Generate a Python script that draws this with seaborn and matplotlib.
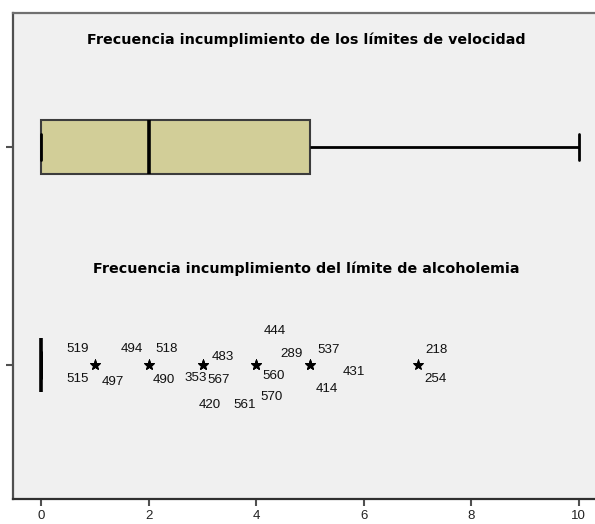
import numpy as np
import pandas as pd
import matplotlib
matplotlib.use("Agg")
import matplotlib.pyplot as plt
import seaborn as sns

# Frequency tables (number of times each limit was exceeded, and how many people)
speed_values = [0, 1, 2, 3, 4, 5, 6, 7, 8, 9, 10]
speed_counts = [170, 70, 60, 45, 45, 55, 35, 30, 25, 15, 25]
alcohol_values = [0, 1, 2, 3, 4, 5, 7]
alcohol_counts = [555, 3, 3, 4, 4, 4, 2]

# Case numbers of the extreme values in the alcohol series
outlier_values = [1, 1, 1, 2, 2, 2, 3, 3, 3, 3, 4, 4, 4, 4, 5, 5, 5, 5, 7, 7]
outlier_cases = ["519", "515", "497", "494", "518", "490", "353", "567", "483", "420",
                 "561", "570", "560", "444", "289", "537", "431", "414", "218", "254"]

titles = ["Frecuencia incumplimiento de los límites de velocidad",
          "Frecuencia incumplimiento del límite de alcoholemia"]
xticks = [0, 2, 4, 6, 8, 10]

# label placement around each star (pixels)
label_offsets = [(-18, 16), (-18, -14), (18, -17), (-17, 16), (18, 16), (15, -15),
                 (-7, -13), (16, -15), (20, 8), (7, -40), (-12, -40), (15, -32),
                 (17, -11), (18, 34), (-19, 11), (18, 15), (44, -7), (17, -24),
                 (19, 15), (18, -14)]

speed = np.repeat(speed_values, speed_counts)
alcohol = np.repeat(alcohol_values, alcohol_counts)
df = pd.DataFrame({
    "valor": np.concatenate([speed, alcohol]),
    "serie": [titles[0]] * len(speed) + [titles[1]] * len(alcohol),
})

sns.set_style("ticks")
plt.rcParams["font.family"] = ["Liberation Sans", "DejaVu Sans"]

fig = plt.figure(figsize=(5.95, 5.24), dpi=100)
ax = fig.add_axes([13 / 595, 25 / 524, 590 / 595, 486 / 524])
ax.set_facecolor("#F0F0F0")

sns.boxplot(
    data=df, x="valor", y="serie", order=titles, orient="h",
    color="#D2CE98", saturation=1, width=0.25, whis=1.5, ax=ax,
    boxprops=dict(edgecolor="#3c3c3c", linewidth=1.5),
    medianprops=dict(color="black", linewidth=2.6),
    whiskerprops=dict(color="black", linewidth=2.0),
    capprops=dict(color="black", linewidth=2.0),
    flierprops=dict(marker="*", markersize=8, markerfacecolor="black",
                    markeredgecolor="black", markeredgewidth=0.5, linestyle="none"),
    capwidths=0.115,
)

# case-number labels next to the extreme values
for v, case, (dx, dy) in zip(outlier_values, outlier_cases, label_offsets):
    ax.annotate(case, xy=(v, 1), xytext=(dx, dy), textcoords="offset pixels",
                ha="center", va="center", fontsize=9.6, color="#111111")

# panel titles
ax.text(4.93, -0.49, titles[0], ha="center", va="center", fontsize=10.3,
        fontweight="bold", family="DejaVu Sans", color="black")
ax.text(4.93, 0.56, titles[1], ha="center", va="center", fontsize=10.3,
        fontweight="bold", family="DejaVu Sans", color="black")

ax.set_xlim(-0.53, 10.45)
ax.set_ylim(1.615, -0.615)
ax.set_xticks(xticks)
ax.set_xticklabels([str(t) for t in xticks])
ax.set_yticks([0, 1])
ax.set_yticklabels([])
ax.set_xlabel("")
ax.set_ylabel("")

for side in ["left", "top", "bottom"]:
    ax.spines[side].set_visible(True)
    ax.spines[side].set_linewidth(1.6)
ax.spines["left"].set_color("#505050")
ax.spines["top"].set_color("#707070")
ax.spines["bottom"].set_color("#303030")
ax.spines["right"].set_visible(False)

ax.tick_params(axis="x", length=5, width=1.5, color="#505050",
               labelsize=9.5, labelcolor="#222222", pad=3)
ax.tick_params(axis="y", length=5, width=1.5, color="#505050")

fig.savefig("out.png", dpi=100, facecolor="white")
